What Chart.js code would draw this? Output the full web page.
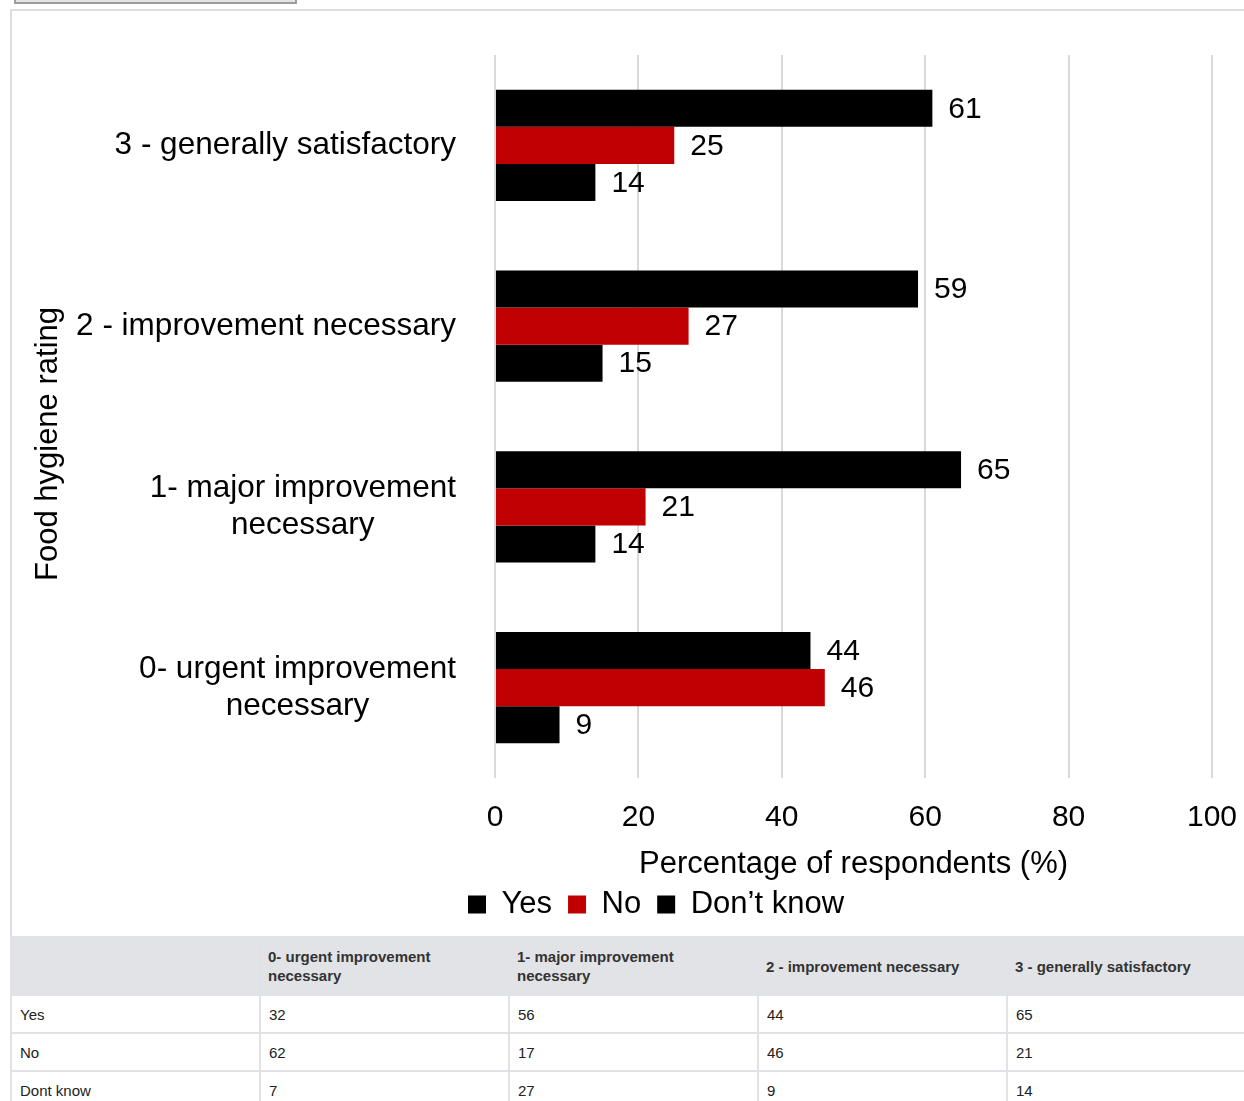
<!DOCTYPE html>
<html><head><meta charset="utf-8">
<script src="https://cdn.jsdelivr.net/npm/chart.js@4/dist/chart.umd.min.js"></script>
<style>
html,body{margin:0;padding:0;background:#fff;overflow:hidden;width:1244px;height:1101px;font-family:"Liberation Sans",Arial,sans-serif;}
#btn{position:absolute;left:14px;top:-20px;width:279px;height:20px;background:#e4e4e4;border:2px solid #9c9c9c;}
#frame{position:absolute;left:10px;top:9px;width:1260px;height:940px;border-top:2px solid #dedede;border-left:2px solid #dedede;}
#wrap{position:absolute;left:0;top:0;width:1244px;height:930px;}
table{position:absolute;left:10px;top:936px;border-collapse:collapse;width:1246px;table-layout:fixed;font-size:15px;color:#222;background:#fff;}
th,td{border:2px solid #e0e2e5;text-align:left;padding:0 7px;vertical-align:middle;}
th{background:#e1e3e6;font-weight:bold;height:56px;line-height:19px;color:#333;}
td{height:36px;padding-left:8px;}
</style></head>
<body>
<div id="btn"></div>
<div id="frame"></div>
<div id="wrap"><canvas id="c"></canvas></div>
<table id="tbl"></table>
<script>
const categories = ['3 - generally satisfactory', '2 - improvement necessary', ['1- major improvement', 'necessary'], ['0- urgent improvement', 'necessary']];
const yesValues = [61, 59, 65, 44];
const noValues = [25, 27, 21, 46];
const dontKnowValues = [14, 15, 14, 9];
const seriesNames = ['Yes', 'No', 'Don\u2019t know'];
const xTicks = [0, 20, 40, 60, 80, 100];
const xTitle = 'Percentage of respondents (%)';
const yTitle = 'Food hygiene rating';

const tableColumns = ['0- urgent improvement necessary', '1- major improvement necessary', '2 - improvement necessary', '3 - generally satisfactory'];
const tableRowNames = ['Yes', 'No', 'Dont know'];
const tableYes = [32, 56, 44, 65];
const tableNo = [62, 17, 46, 21];
const tableDontKnow = [7, 27, 9, 14];

// Build table
(function(){
  const t = document.getElementById('tbl');
  let h = '<colgroup>' + '<col style="width:249px">'.repeat(5) + '</colgroup><tr><th></th>';
  tableColumns.forEach(c => h += '<th>' + c + '</th>');
  h += '</tr>';
  [tableYes, tableNo, tableDontKnow].forEach((row, i) => {
    h += '<tr><td>' + tableRowNames[i] + '</td>';
    row.forEach(v => h += '<td>' + v + '</td>');
    h += '</tr>';
  });
  t.innerHTML = h;
})();

const FONT = '"Liberation Sans", Arial, sans-serif';

const labelPlugin = {
  id: 'customLabels',
  afterDatasetsDraw(chart) {
    const ctx = chart.ctx;
    ctx.save();
    ctx.fillStyle = '#000';
    ctx.font = '30px ' + FONT;
    ctx.textAlign = 'left';
    ctx.textBaseline = 'middle';
    chart.data.datasets.forEach((ds, di) => {
      const meta = chart.getDatasetMeta(di);
      meta.data.forEach((bar, i) => {
        ctx.fillText(String(ds.data[i]), bar.x + 16, bar.y + 1);
      });
    });
    ctx.restore();
  },
  afterDraw(chart) {
    const ctx = chart.ctx;
    const ys = chart.scales.y;
    ctx.save();
    ctx.fillStyle = '#000';
    ctx.font = '31.5px ' + FONT;
    ctx.textBaseline = 'middle';
    ctx.textAlign = 'center';
    const rightEdge = 456, lh = 37;
    chart.data.labels.forEach((lab, i) => {
      const lines = Array.isArray(lab) ? lab : [lab];
      const maxW = Math.max(...lines.map(l => ctx.measureText(l).width));
      const cx = rightEdge - maxW / 2;
      const cy = ys.getPixelForValue(i);
      const y0 = cy - (lines.length - 1) * lh / 2;
      lines.forEach((l, k) => ctx.fillText(l, cx, y0 + k * lh));
    });
    // y axis title
    ctx.font = '31px ' + FONT;
    ctx.translate(48, 444);
    ctx.rotate(-Math.PI / 2);
    ctx.fillText(yTitle, 0, 0);
    ctx.restore();
  }
};

new Chart(document.getElementById('c'), {
  type: 'bar',
  data: {
    labels: categories,
    datasets: [
      { label: seriesNames[0], data: yesValues, backgroundColor: '#000000' },
      { label: seriesNames[1], data: noValues, backgroundColor: '#c00000' },
      { label: seriesNames[2], data: dontKnowValues, backgroundColor: '#000000' }
    ]
  },
  options: {
    indexAxis: 'y',
    responsive: true,
    maintainAspectRatio: false,
    animation: false,
    datasets: { bar: { categoryPercentage: 0.615, barPercentage: 1.0 } },
    layout: { padding: { left: 100, top: 55, right: 32, bottom: 0 } },
    scales: {
      x: {
        min: 0, max: 100,
        afterBuildTicks(scale) { scale.ticks = xTicks.map(v => ({ value: v })); },
        afterFit(scale) { scale.height = 95; scale.paddingLeft = 0; scale.paddingRight = 0; },
        ticks: { color: '#000', font: { size: 30, family: FONT }, padding: 22, maxRotation: 0 },
        grid: { color: '#d9d9d9', lineWidth: 2, drawTicks: false },
        border: { display: false },
        title: { display: true, text: xTitle, color: '#000', font: { size: 31, family: FONT }, padding: { top: 0, bottom: -10 } }
      },
      y: {
        afterFit(scale) { scale.width = 395; },
        ticks: { display: false },
        grid: { display: false },
        border: { display: false }
      }
    },
    plugins: {
      legend: {
        position: 'bottom',
        labels: { color: '#000', font: { size: 31, family: FONT }, boxWidth: 18, boxHeight: 18, padding: 16 }
      },
      tooltip: { enabled: false }
    }
  },
  plugins: [labelPlugin]
});
</script>
</body></html>
